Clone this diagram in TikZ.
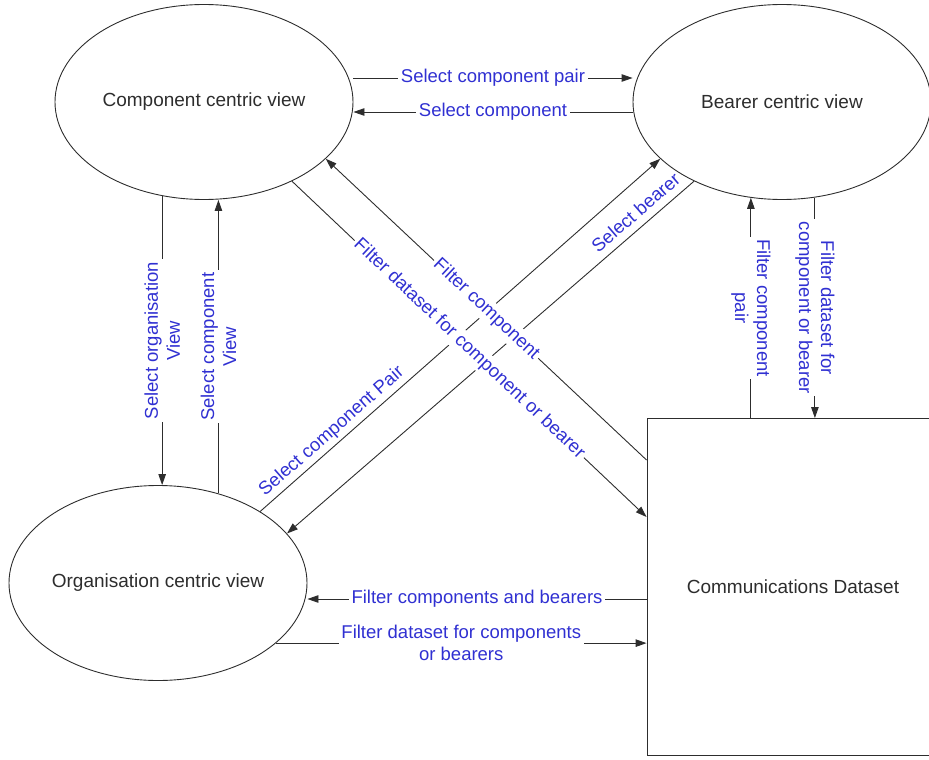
\documentclass[tikz,border=0pt]{standalone}
\usepackage{fontspec}
\setmainfont{Liberation Sans}
\usepackage{xcolor}
\usepackage{tikz}
\usetikzlibrary{shapes.geometric,arrows.meta}
\definecolor{flowblue}{RGB}{48,48,210}
\definecolor{inkgrey}{RGB}{45,45,45}
\newcommand{\viewfont}{\fontsize{19}{22}\selectfont}
\newcommand{\flowfont}{\fontsize{18.5}{22}\selectfont}

\begin{document}
\begin{tikzpicture}[x=1pt,y=-1pt,font=\viewfont,
  view/.style={draw=inkgrey,line width=0.9pt,ellipse,minimum width=298pt,minimum height=195pt,inner sep=0pt,label={[text=inkgrey]center:#1}},
  store/.style={draw=inkgrey,line width=0.9pt,rectangle,minimum width=292pt,minimum height=337pt,text=inkgrey},
  flow/.style={draw=inkgrey,line width=0.9pt,-{Triangle[length=11pt,width=7.5pt]}},
  lbl/.style={text=flowblue,font=\flowfont,fill=white,inner sep=2.5pt,align=center}]
  \useasboundingbox (0,0) rectangle (929,760);
  \node[view=Component centric view] (comp) at (204,102) {};
  \node[view=Bearer centric view] (bear) at (782,102) {};
  \node[view=Organisation centric view] (org) at (158,583) {};
  \node[store] (data) at (793,587) {Communications Dataset};

  \draw[flow] ([yshift=24pt]comp.east) -- node[lbl] {Select component pair} ([yshift=24pt]bear.west);
  \draw[flow] ([yshift=-10pt]bear.west) -- node[lbl] {Select component} ([yshift=-10pt]comp.east);

  \draw[flow] (comp.246) -- node[lbl,rotate=90] {Select organisation\\View} (comp.246 |- org.north);
  \draw[flow] (org.56) -- node[lbl,rotate=90] {Select component\\View} (org.56 |- comp.south);

  \draw[flow] (bear.252 |- data.north) -- node[lbl,rotate=-90] {Filter component\\pair} (bear.252);
  \draw[flow] (bear.289) -- node[lbl,rotate=-90] {Filter dataset for\\component or bearer} (bear.289 |- data.north);

  \draw[flow] ([yshift=-12pt]data.west) -- node[lbl] {Filter components and bearers} ([yshift=-16pt]org.east);
  \draw[flow] (org.333) -- node[lbl] {Filter dataset for components\\or bearers} (org.333 -| data.west);

  \draw[flow] (org.35) -- node[lbl,sloped,above=1pt,pos=0.2,fill=none] {Select component Pair} (bear.205);
  \draw[flow] (bear.222) -- node[lbl,sloped,above=5pt,pos=0.12,fill=none] {Select bearer} (org.21);

  \draw[flow] (comp.318) -- node[lbl,sloped] {Filter dataset for component or bearer} ([yshift=70pt]data.west);
  \draw[flow] ([yshift=127pt]data.west) -- node[lbl,sloped] {Filter component} (comp.335);
\end{tikzpicture}
\end{document}
